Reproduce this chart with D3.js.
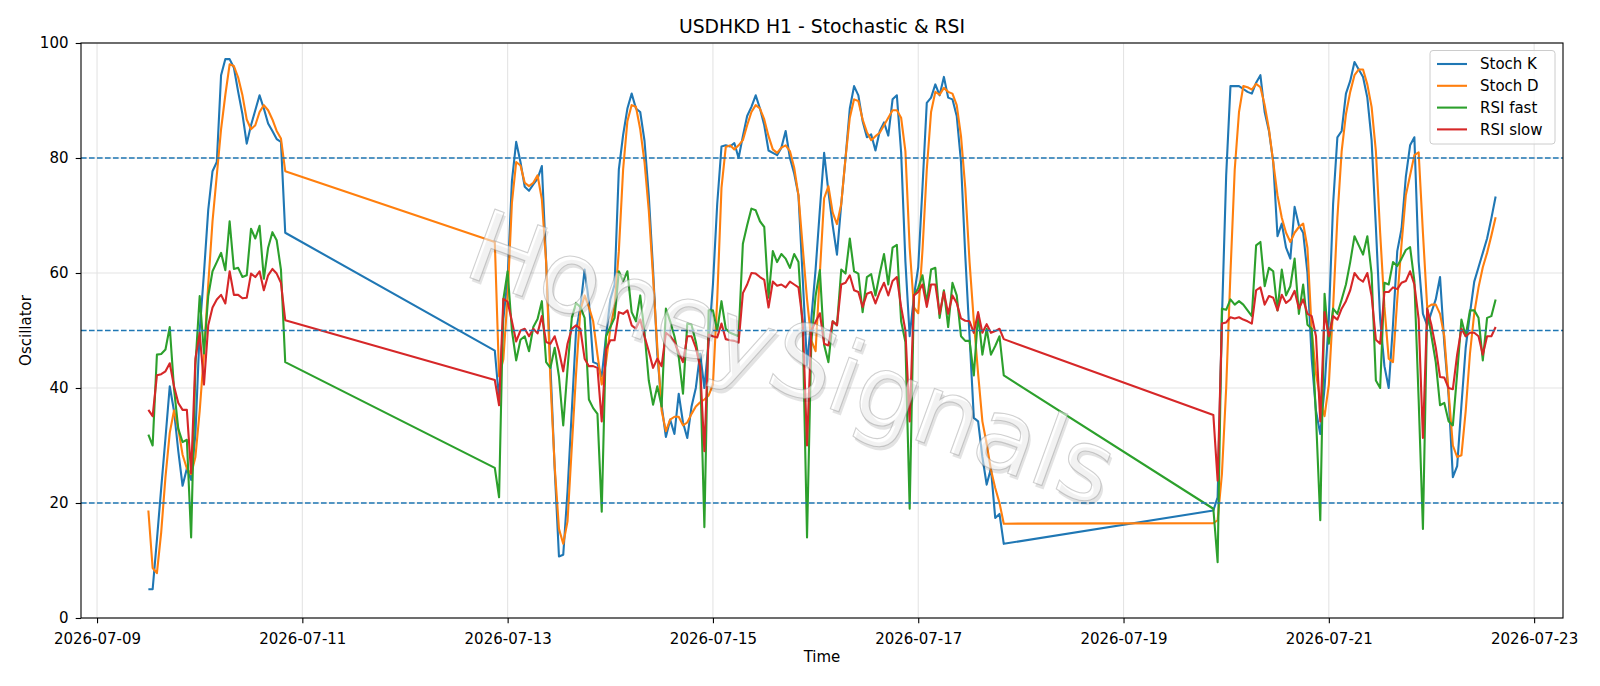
<!DOCTYPE html>
<html>
<head>
<meta charset="utf-8">
<script src="https://cdn.jsdelivr.net/npm/d3@7"></script>
<style>
  body { margin: 0; background: #fff; }
  svg { display: block; font-family: "DejaVu Sans", sans-serif; }
</style>
</head>
<body>
<svg id="chart"></svg>
<script>
// hourly bars, three trading blocks (weekends skipped)
const segmentStarts = ['2026-07-09T12:00:00Z', '2026-07-12T21:00:00Z', '2026-07-19T21:00:00Z'];
const segmentHours = [33, 120, 67];

const stochK = [
  5, 5, 13.6, 22.6, 31.3, 40.3, 36, 29, 23, 26, 24, 32, 50, 60, 71, 77.7, 79.3, 94.4, 97.2, 97.2,
  95.7, 91.5, 87.6, 82.5, 85.7, 88.3, 90.9, 88.6, 86, 84.7, 83.3, 82.8, 67,
  46.5, 38, 52, 59, 76, 82.8, 79.3, 75, 74.3, 75.4,
  76.4, 78.6, 62, 44, 26, 10.7, 11, 22, 36, 50,
  54, 60.6, 55, 44.5, 44.2, 42, 49, 55.4, 58, 78,
  84, 88.6, 91.2, 88.6, 88, 83, 73.5, 60.6, 45.8, 37,
  31.5, 34.5, 32, 39, 34, 31.3, 36.8, 40, 46, 40,
  48, 58, 72, 82, 82.2, 82, 82.6, 80, 83.8, 87.3,
  88.9, 90.9, 88.6, 85.7, 81.3, 80.9, 80.5, 81.8, 84.7, 80,
  77.3, 73.5, 59, 44, 52, 60.6, 71, 80.9, 74.1, 68.3,
  63.2, 72, 80, 88.6, 92.5, 90.9, 86.4, 83.6, 84.1, 81.3,
  84.7, 86.2, 83.9, 90.2, 90.9, 81, 62, 49, 56, 61,
  75, 89.6, 90.5, 92.8, 90.9, 94.1, 90.5, 90.2, 87.3, 79.3,
  63, 49, 34.8, 34.2, 28, 23.2, 26, 17.4, 18.1, 12.9,
  18.7, 21, 52, 77, 92.5, 92.5, 92.5, 92, 91.5, 91.2,
  93.1, 94.4, 88, 84.7, 79.3, 66.4, 68.6, 64.4, 62.5, 71.5,
  68.3, 67, 60, 45, 36, 32, 40, 52, 72, 83.6,
  84.7, 91.2, 93.4, 96.7, 95.4, 94.1, 90.5, 83.1, 68, 52,
  43.8, 40, 51, 63.8, 67.7, 76.7, 82.2, 83.6, 62, 52.9,
  50.9, 53.2, 55.4, 59.3, 47.7, 38.7, 24.5, 26.4, 37, 47,
  53, 58.5, 61, 63.5, 66, 69.5, 73.3
];

const stochD = [
  18.7, 8.7, 7.8, 14.9, 24.5, 32.2, 36.1, 32.9, 28.4, 26, 25, 28, 36, 46, 58, 69, 77, 85, 91, 96.3,
  96, 94, 90.9, 86.7, 85, 85.7, 88, 89.2, 88.3, 86.7, 84.7, 83.4, 77.7,
  65.4, 42, 45, 56, 72.2, 79.3, 78.7, 75.7, 75.1, 75.7,
  77, 72.8, 61.9, 41.3, 26.4, 15.5, 12.9, 16.8, 29.7, 42.5,
  53.5, 56.1, 54.1, 51.6, 45.8, 40.6, 44.5, 50.3, 54.1, 63.8,
  78, 86.4, 89.2, 88.9, 85, 79.3, 70.9, 59.3, 47.1, 36.1,
  32.5, 34.5, 35, 35, 33.5, 34, 35.5, 36.8, 37.5, 38,
  38.7, 40.6, 55.4, 74.8, 81.9, 82.2, 81.5, 82.2, 83.1, 85.7,
  88, 89.2, 88.6, 86.7, 83.8, 81.5, 80.9, 81.8, 82.2, 81.2,
  78.3, 73.5, 64.4, 55.4, 48.3, 46.4, 60, 73, 75.1, 70.5,
  68.5, 72, 80, 87, 90.2, 89.9, 86.7, 84.5, 83.1, 83.8,
  84.4, 85.7, 87, 88.3, 88.3, 87, 81.2, 64.4, 54, 53,
  64, 78, 88, 91.5, 91, 92.2, 91.5, 91.2, 89.2, 83.8,
  74.8, 61.9, 51.6, 42.5, 34.2, 30.3, 25.8, 22.6, 20, 16.4,
  16.5, 17, 25, 40, 60, 78, 88, 92.5, 92.3, 91.9,
  92.9, 92.3, 89.2, 85, 79.3, 73.5, 69.6, 67, 65.4, 67,
  68, 68.6, 64.4, 50, 42.5, 38, 35.1, 40.6, 54, 69.6,
  81.2, 87.6, 91.5, 94.4, 95.4, 95.4, 92.8, 88.9, 81.2, 67,
  54.1, 45.1, 44.5, 55.4, 65, 73.5, 77, 80.5, 81, 67,
  54, 54.5, 54.5, 52.9, 49, 39.3, 30, 28, 28.3, 36,
  46, 53, 57.5, 61, 63.5, 66.5, 69.7
];

const rsiFast = [
  31.9, 30, 45.8, 45.9, 46.7, 50.6, 39.9, 32.9, 30.6, 31, 14, 44, 56, 46, 56, 60.3, 61.9, 63.5, 60.5, 69,
  60.7, 60.9, 59.3, 59.6, 67.7, 66, 68.2, 59, 64.4, 67.1, 65.7, 60.6, 44.5,
  26.1, 21, 55.4, 60.3, 50, 44.8, 48.4, 49, 46.4, 50.6,
  52, 55.1, 44.5, 43.5, 47, 42, 33.5, 43.3, 52.2, 54.8,
  54.1, 52.2, 38, 36.5, 35.5, 18.5, 49, 50.6, 52.2, 60.3,
  58.6, 60.3, 53.2, 51.6, 56.1, 49.6, 41.3, 37.1, 40.3, 36.8,
  53.8, 51.6, 49, 45.4, 39, 51.2, 51, 48, 43.8, 15.8,
  53.5, 53.5, 50, 55.1, 50.3, 49.6, 49.3, 49, 65.1, 68.3,
  71.2, 70.9, 69, 68, 55.7, 63.8, 61.9, 63.3, 62.5, 60.9,
  63.3, 61.9, 50, 14, 48, 56, 60.5, 47.5, 44.5, 51.6,
  50.9, 60.6, 59.9, 66, 60.3, 59.9, 53.2, 59.3, 59.8, 56.1,
  59.9, 63.3, 58, 64.4, 64.9, 51.6, 48, 19, 56.1, 57.4,
  59.6, 54.8, 60.6, 60.9, 52.2, 57, 50.6, 58.3, 56.1, 49,
  48.2, 48.2, 42.2, 52.9, 45.8, 50.3, 45.8, 47.3, 49, 42.2,
  19, 9.7, 53.8, 53.6, 55.4, 54.5, 55.1, 54.5, 53.5, 52.5,
  64.8, 65.4, 57.7, 60.9, 60.3, 53.5, 60.6, 56.1, 57.7, 62.5,
  52.9, 58, 51, 50.3, 35, 17, 56.4, 47.7, 53.8, 52.9,
  55.4, 58, 61.9, 66.4, 64.8, 63.2, 66.4, 59.9, 41.3, 40,
  58.3, 58, 61.9, 61.2, 62.5, 64, 64.5, 58.6, 38, 15.5,
  53.8, 49, 44.5, 37, 37.4, 34.2, 33.5, 42.5, 51.9, 49,
  53.5, 53.5, 52.2, 44.8, 52.2, 52.5, 55.4
];

const rsiSlow = [
  36.2, 35.1, 42.2, 42.4, 42.9, 44.3, 40.3, 37.4, 36.2, 36.2, 25.2, 45.1, 49.6, 40.6, 50.9, 54, 55.4, 56.2, 54.7, 60.3,
  56.2, 56.2, 55.6, 55.7, 59.9, 59.3, 60.3, 57, 59.6, 60.7, 59.9, 58.3, 51.8,
  41.4, 37, 55.5, 55, 51.6, 48.1, 50, 50.3, 49, 50.3,
  49.5, 52.5, 48, 47.7, 49, 46.4, 42.9, 47.7, 50.3, 50.9,
  50.3, 45.1, 43.8, 43.8, 43.5, 34.2, 46.7, 48.3, 48.3, 53.2,
  52.9, 53.5, 50.9, 50.3, 51.9, 49, 46.4, 43.5, 45.1, 43.8,
  49.6, 49, 48, 46.1, 44.5, 49, 49, 47, 43.8, 29,
  49.3, 49, 48.8, 51.2, 48.5, 48.3, 48.2, 47.9, 56.5, 58,
  60, 59.9, 59.3, 58.8, 54, 58.5, 57.8, 58, 57.5, 58.5,
  58, 57.5, 51.6, 30, 50, 51.5, 53, 47.7, 47.4, 51.6,
  50.9, 58, 58.3, 59.6, 57, 56.7, 54.1, 56.4, 56.7, 54.7,
  56.7, 58.3, 56.1, 58.6, 59.3, 54.1, 50, 34.2, 56.1, 56.7,
  58, 54.1, 58, 58, 52.9, 56.7, 52.9, 56.1, 54.8, 52.1,
  51.7, 51.6, 49.6, 53.2, 49.6, 51.1, 49.6, 49.9, 50.3, 48.5,
  35.3, 23.9, 51.2, 51.4, 52.3, 52.1, 52.3, 51.9, 51.6, 51.2,
  57, 57.5, 54.5, 56, 55.7, 53.5, 56.2, 54.8, 55.4, 56.9,
  53.8, 55.4, 52.9, 52.5, 49, 34.2, 53.2, 49, 52.5, 51.9,
  53.8, 55.1, 57, 60, 59, 58.5, 60, 56, 48.4, 47.7,
  56.7, 56.7, 57.5, 57.2, 58.3, 58.6, 60.3, 58, 52, 31.3,
  53.8, 50.9, 47, 41.9, 41.8, 40, 39.8, 45.8, 50.3, 49,
  49.6, 49.6, 49, 45.8, 49, 49, 50.6
];

const seriesNames = ['Stoch K', 'Stoch D', 'RSI fast', 'RSI slow'];
const xTickLabels = ['2026-07-09', '2026-07-11', '2026-07-13', '2026-07-15', '2026-07-17', '2026-07-19', '2026-07-21', '2026-07-23'];
const yTicks = [0, 20, 40, 60, 80, 100];
const levels = [80, 50, 20];

const width = 1600, height = 686;
const margin = { top: 43, right: 37, bottom: 68, left: 81 };
const colors = ['#1f77b4', '#ff7f0e', '#2ca02c', '#d62728'];

const times = [];
segmentStarts.forEach((s, i) => {
  const t0 = new Date(s);
  for (let h = 0; h < segmentHours[i]; h++) times.push(d3.utcHour.offset(t0, h));
});

const seriesValues = [stochK, stochD, rsiFast, rsiSlow];

const svg = d3.select('#chart')
  .attr('width', width)
  .attr('height', height);

const [t0, t1] = d3.extent(times);
const pad = (t1 - t0) * 0.05;
const xScale = d3.scaleUtc()
  .domain([new Date(+t0 - pad), new Date(+t1 + pad)])
  .range([margin.left, width - margin.right]);

const yScale = d3.scaleLinear()
  .domain([0, 100])
  .range([height - margin.bottom, margin.top]);

const xTicks = xTickLabels.map(d => new Date(d + 'T00:00:00Z'));

// grid
svg.append('g')
  .selectAll('line')
  .data(xTicks)
  .enter()
  .append('line')
  .attr('x1', d => xScale(d)).attr('x2', d => xScale(d))
  .attr('y1', margin.top).attr('y2', height - margin.bottom)
  .attr('stroke', '#e4e4e4').attr('stroke-width', 1.1);

svg.append('g')
  .selectAll('line')
  .data(yTicks)
  .enter()
  .append('line')
  .attr('x1', margin.left).attr('x2', width - margin.right)
  .attr('y1', d => yScale(d)).attr('y2', d => yScale(d))
  .attr('stroke', '#e4e4e4').attr('stroke-width', 1.1);

// series
const line = d3.line()
  .x((d, i) => xScale(times[i]))
  .y(d => yScale(d));

seriesValues.forEach((vals, k) => {
  svg.append('path')
    .datum(vals)
    .attr('d', line)
    .attr('fill', 'none')
    .attr('stroke', colors[k])
    .attr('stroke-width', 2.1)
    .attr('stroke-linejoin', 'round');
});

// level lines
svg.append('g')
  .selectAll('line')
  .data(levels)
  .enter()
  .append('line')
  .attr('x1', margin.left).attr('x2', width - margin.right)
  .attr('y1', d => yScale(d)).attr('y2', d => yScale(d))
  .attr('stroke', colors[0])
  .attr('stroke-width', 1.5)
  .attr('stroke-dasharray', '5.6,2.4');

// watermark
const wm = svg.append('g')
  .attr('transform', 'translate(792,358) rotate(20)')
  .attr('font-size', 100)
  .attr('text-anchor', 'middle')
  .attr('dominant-baseline', 'central');
wm.append('text')
  .attr('x', 3).attr('y', 3)
  .attr('fill', '#000').attr('fill-opacity', 0.11)
  .text('HoneySignals');
wm.append('text')
  .attr('fill', '#fff').attr('fill-opacity', 0.55)
  .attr('stroke', '#909090').attr('stroke-opacity', 0.42).attr('stroke-width', 1.1)
  .text('HoneySignals');

// axes
const xAxis = svg.append('g')
  .attr('transform', `translate(0,${height - margin.bottom})`)
  .call(d3.axisBottom(xScale)
    .tickValues(xTicks)
    .tickFormat(d3.utcFormat('%Y-%m-%d'))
    .tickSize(5.3)
    .tickSizeOuter(0)
    .tickPadding(10));

const yAxis = svg.append('g')
  .attr('transform', `translate(${margin.left},0)`)
  .call(d3.axisLeft(yScale)
    .tickValues(yTicks)
    .tickSize(5.3)
    .tickSizeOuter(0)
    .tickPadding(7.2));

[xAxis, yAxis].forEach(g => {
  g.select('.domain').remove();
  g.selectAll('.tick line').attr('stroke', '#000').attr('stroke-width', 1.1);
  g.selectAll('.tick text')
    .attr('font-family', '"DejaVu Sans", sans-serif')
    .attr('font-size', 15)
    .attr('fill', '#000');
});

svg.append('rect')
  .attr('x', margin.left).attr('y', margin.top)
  .attr('width', width - margin.left - margin.right)
  .attr('height', height - margin.top - margin.bottom)
  .attr('fill', 'none')
  .attr('stroke', '#000')
  .attr('stroke-width', 1.1);

// labels
svg.append('text')
  .attr('x', (margin.left + width - margin.right) / 2)
  .attr('y', 33)
  .attr('text-anchor', 'middle')
  .attr('font-size', 18.8)
  .text('USDHKD H1 - Stochastic & RSI');

svg.append('text')
  .attr('x', (margin.left + width - margin.right) / 2)
  .attr('y', 662)
  .attr('text-anchor', 'middle')
  .attr('font-size', 15)
  .text('Time');

svg.append('text')
  .attr('transform', `translate(31,${(margin.top + height - margin.bottom) / 2}) rotate(-90)`)
  .attr('text-anchor', 'middle')
  .attr('font-size', 15)
  .text('Oscillator');

// legend
const legend = svg.append('g');
legend.append('rect')
  .attr('x', 1430).attr('y', 50.5)
  .attr('width', 125).attr('height', 93.5)
  .attr('rx', 3)
  .attr('fill', '#fff').attr('fill-opacity', 0.8)
  .attr('stroke', '#cccccc').attr('stroke-width', 1);

seriesNames.forEach((name, k) => {
  const cy = 64 + k * 21.8;
  legend.append('line')
    .attr('x1', 1437).attr('x2', 1467)
    .attr('y1', cy).attr('y2', cy)
    .attr('stroke', colors[k]).attr('stroke-width', 2.1);
  legend.append('text')
    .attr('x', 1480).attr('y', cy + 5.3)
    .attr('font-size', 15)
    .text(name);
});
</script>
</body>
</html>
